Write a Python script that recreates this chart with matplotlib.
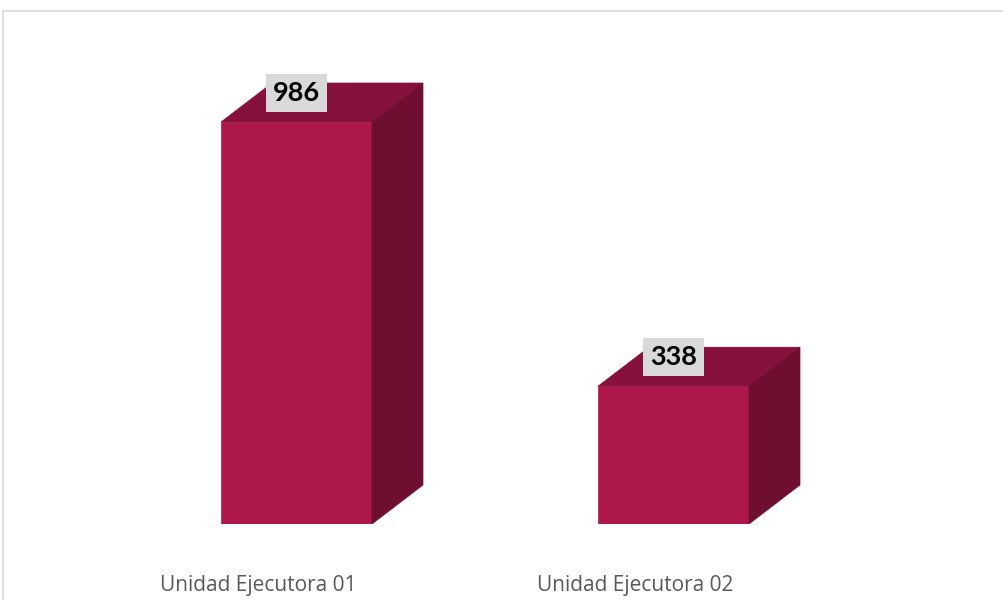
import matplotlib
matplotlib.use("Agg")
import matplotlib.pyplot as plt
from matplotlib.patches import Rectangle, Polygon

categories = ["Unidad Ejecutora 01", "Unidad Ejecutora 02"]
values = [986, 338]
value_labels = ["986", "338"]

FRONT = "#AD1749"
TOP = "#86113D"
SIDE = "#6E0E30"

W, H, DPI = 1004, 600, 100
fig = plt.figure(figsize=(W / DPI, H / DPI), dpi=DPI)
fig.patch.set_facecolor("white")

# axes: y=0 at pixel row 524, 0.4077 px per unit; categories 377 px apart
px_per_unit = 0.4077
ymax = 1100
ax_h = ymax * px_per_unit / H
ax_bottom = (H - 524) / H
ax = fig.add_axes([0, ax_bottom, 1, ax_h])
cat_gap_px = 377.0
x0_px = 296.5
ax.set_xlim(-x0_px / cat_gap_px, (W - x0_px) / cat_gap_px)
ax.set_ylim(0, ymax)
ax.axis("off")

bar_w = 151 / cat_gap_px
dx = 51 / cat_gap_px
dy = 39 / px_per_unit

for i, v in enumerate(values):
    l, r = i - bar_w / 2, i + bar_w / 2
    ax.add_patch(Polygon([(l, 0), (r, 0), (r, v), (l, v)], closed=True,
                         facecolor=FRONT, edgecolor=FRONT, lw=0.5))
    ax.add_patch(Polygon([(l, v), (r, v), (r + dx, v + dy), (l + dx, v + dy)],
                         closed=True, facecolor=TOP, edgecolor=TOP, lw=0.5))
    ax.add_patch(Polygon([(r, 0), (r + dx, dy), (r + dx, v + dy), (r, v)],
                         closed=True, facecolor=SIDE, edgecolor=SIDE, lw=0.5))
    ax.annotate(value_labels[i], xy=(i, v), xytext=(0, 29 * 72 / DPI),
                textcoords="offset points", ha="center", va="center",
                fontsize=19.5, fontweight="bold", family="Lato", color="black",
                bbox=dict(boxstyle="square,pad=0.25", facecolor="#D9D9D9",
                          edgecolor="none"))
    ax.annotate(categories[i], xy=(i, 0), xytext=(-38.5 * 72 / DPI, -62 * 72 / DPI),
                textcoords="offset points", ha="center", va="center",
                fontsize=15, family="Open Sans", color="#595959")

# chart frame
fig.add_artist(Rectangle((3.5 / W, -0.2), 1.2, 1.2 - 10.5 / H,
                         transform=fig.transFigure, fill=False,
                         edgecolor="#D9D9D9", lw=1.2))

fig.savefig("out.png", dpi=DPI)
